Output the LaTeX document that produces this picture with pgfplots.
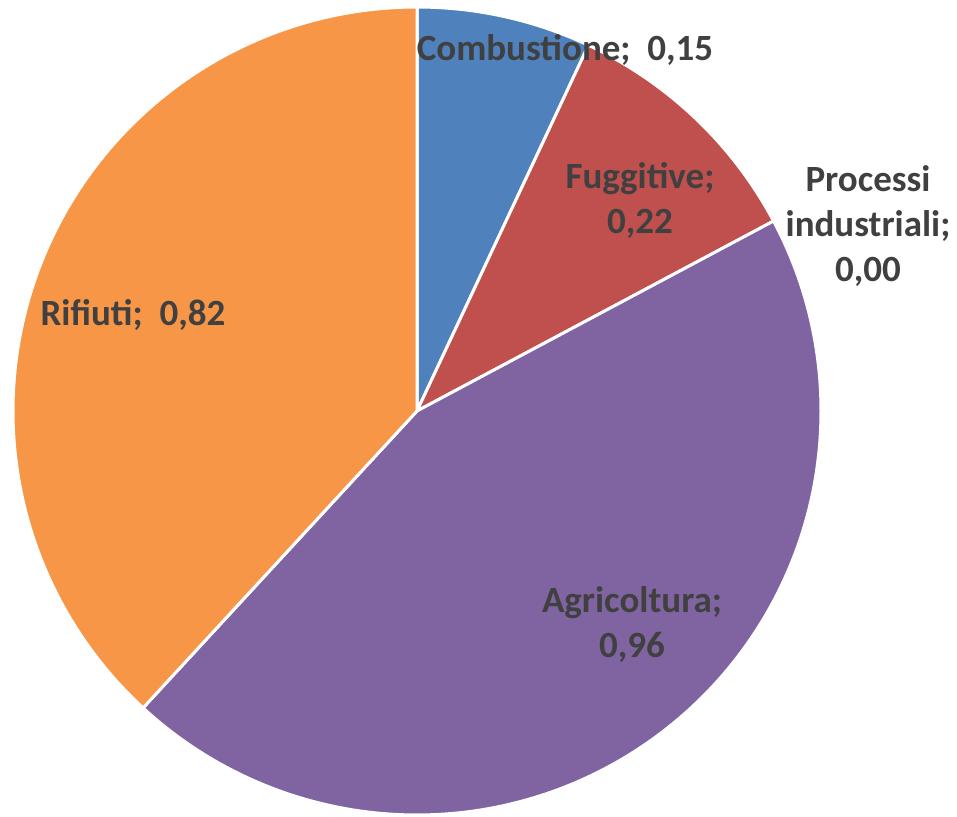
\documentclass[border=0pt]{standalone}
\usepackage{pgfplots}
\pgfplotsset{compat=1.18}
\usepackage{pgfplotstable}
\usepackage{fontspec}
\setmainfont{Carlito}
\definecolor{cComb}{HTML}{4F81BD}
\definecolor{cFugg}{HTML}{C0504D}
\definecolor{cProc}{HTML}{9BBB59}
\definecolor{cAgri}{HTML}{8064A2}
\definecolor{cRifi}{HTML}{F79646}
\definecolor{txt}{HTML}{404040}
\tikzset{lbl/.style={font=\fontsize{18.5}{22.5}\selectfont\bfseries, text=txt, align=center, inner sep=0pt}}
\pgfplotstableread{
cat value
Combustione 0.15
Fuggitive 0.22
Processi 0.00
Agricoltura 0.96
Rifiuti 0.82
}\piedata
\begin{document}
\begin{tikzpicture}
\pgfplotstablegetelem{0}{value}\of\piedata \pgfmathsetmacro\vA{\pgfplotsretval}
\pgfplotstablegetelem{1}{value}\of\piedata \pgfmathsetmacro\vB{\pgfplotsretval}
\pgfplotstablegetelem{2}{value}\of\piedata \pgfmathsetmacro\vC{\pgfplotsretval}
\pgfplotstablegetelem{3}{value}\of\piedata \pgfmathsetmacro\vD{\pgfplotsretval}
\pgfplotstablegetelem{4}{value}\of\piedata \pgfmathsetmacro\vE{\pgfplotsretval}
\pgfmathsetmacro\tot{\vA+\vB+\vC+\vD+\vE}
\pgfmathsetmacro\aA{90}
\pgfmathsetmacro\aB{\aA-360*\vA/\tot}
\pgfmathsetmacro\aC{\aB-360*\vB/\tot}
\pgfmathsetmacro\aD{\aC-360*\vC/\tot}
\pgfmathsetmacro\aE{\aD-360*\vD/\tot}
\pgfmathsetmacro\aF{\aE-360*\vE/\tot}
\begin{axis}[scale only axis, width=478.5pt, height=408pt,
  xmin=0, xmax=957, ymin=0, ymax=816, hide axis, clip=false]
\addplot[fill=cComb, draw=white, line width=1.5pt, domain=\aB:\aA, samples=60, variable=\t]
  ({417+404*cos(\t)}, {405+404*sin(\t)}) -- (417,405) -- cycle;
\addplot[fill=cFugg, draw=white, line width=1.5pt, domain=\aC:\aB, samples=60, variable=\t]
  ({417+404*cos(\t)}, {405+404*sin(\t)}) -- (417,405) -- cycle;
\addplot[fill=cAgri, draw=white, line width=1.5pt, domain=\aE:\aD, samples=150, variable=\t]
  ({417+404*cos(\t)}, {405+404*sin(\t)}) -- (417,405) -- cycle;
\addplot[fill=cRifi, draw=white, line width=1.5pt, domain=\aF:\aE, samples=150, variable=\t]
  ({417+404*cos(\t)}, {405+404*sin(\t)}) -- (417,405) -- cycle;
\node[lbl] at (565,766) {Combustione;\ \ 0,15};
\node[lbl] at (640,616) {Fuggitive;\\0,22};
\node[lbl] at (868,590) {Processi\\industriali;\\0,00};
\node[lbl] at (133,501) {Rifiuti;\ \ 0,82};
\node[lbl] at (632,191) {Agricoltura;\\0,96};
\coordinate (ll) at (rel axis cs:0,0);
\coordinate (ur) at (rel axis cs:1,1);
\end{axis}
\pgfresetboundingbox
\path[use as bounding box] (ll) rectangle (ur);
\end{tikzpicture}
\end{document}
